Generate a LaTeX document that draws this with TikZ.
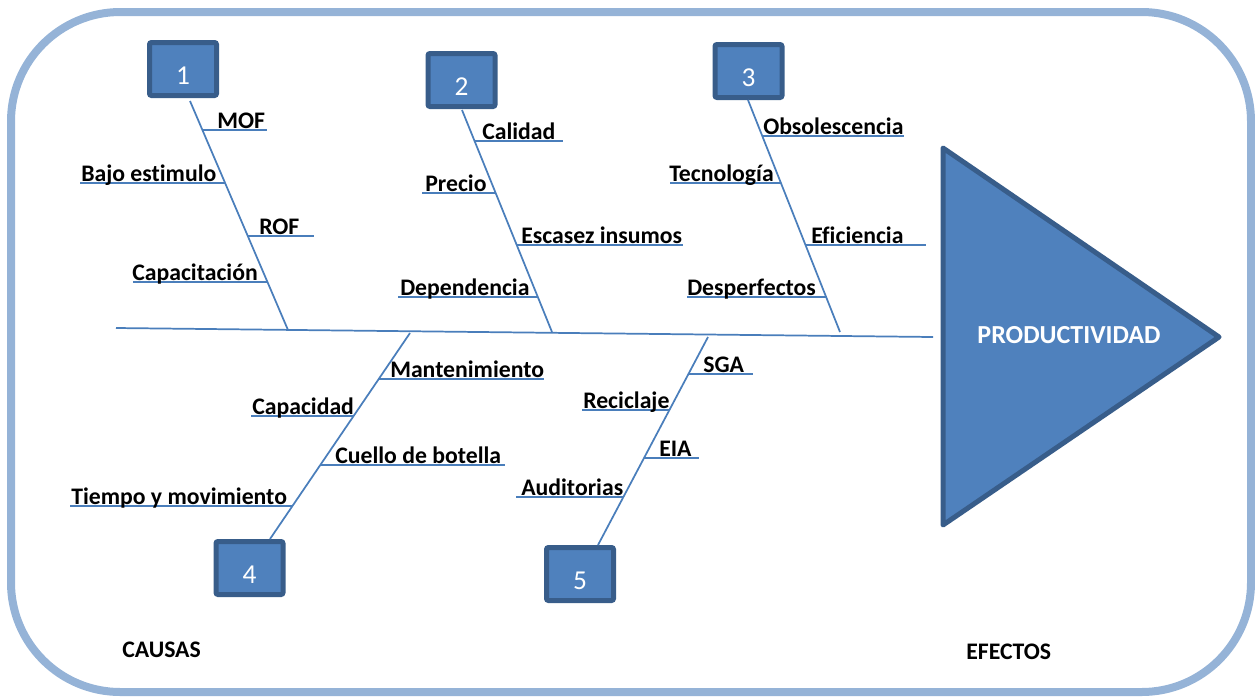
\documentclass[tikz,border=0pt]{standalone}
\usepackage{fontspec}
\setmainfont{Carlito}[Ligatures=NoCommon]
\definecolor{lineblue}{HTML}{4A7EBB}
\definecolor{boxfill}{HTML}{4F81BD}
\definecolor{boxedge}{HTML}{385D8A}
\definecolor{frameblue}{HTML}{95B3D7}
\begin{document}
\begin{tikzpicture}[x=0.75pt,y=-0.75pt,
  bone/.style={draw=lineblue,line width=1.3pt},
  lbl/.style={anchor=base west,inner sep=0pt,font=\bfseries\fontsize{17.8pt}{20pt}\selectfont},
  numbox/.style={draw=boxedge,fill=boxfill,line width=3.75pt,rounded corners=1.5pt,
    minimum width=50.25pt,minimum height=39.75pt,inner sep=0pt,text=white,
    font=\fontsize{20.5pt}{24pt}\selectfont,text height=22.5pt,text depth=0pt},
  bigtext/.style={anchor=base,inner sep=0pt,text=white,font=\bfseries\fontsize{19.5pt}{23pt}\selectfont},
]
\useasboundingbox (0,0) rectangle (1255,697);
% frame
\draw[frameblue,line width=6pt,rounded corners=82pt] (11,12) rectangle (1251,692);

% effect triangle
\coordinate (tA) at (943,148);
\coordinate (tB) at (1219,337);
\coordinate (tC) at (943,525);
\draw[boxedge,fill=boxfill,line width=3.75pt,line join=round] (tA) -- (tB) -- (tC) -- cycle;
\node[bigtext] (prod) at (1069,343) {PRODUCTIVIDAD};

% spine
\coordinate (sL) at (116,328);
\coordinate (sR) at (933,337);
\draw[bone] (sL) -- (sR);

% boxes
\node[numbox] (b1) at (183,69) {1};
\node[numbox] (b2) at (461.5,80) {2};
\node[numbox] (b3) at (748.5,71) {3};
\node[numbox] (b4) at (249.5,568) {4};
\node[numbox] (b5) at (580,574) {5};

% bone 1
\coordinate (t1) at (190,101); \coordinate (e1) at (288,330);
\draw[bone] (t1) -- (e1);
\draw[bone] (202.5,130) coordinate (a1) -- (267,130) coordinate (a1e);
\node[lbl] (l11) at (217,128) {MOF};
\draw[bone] (80,183) coordinate (a2e) -- (225,183) coordinate (a2);
\node[lbl] (l12) at (81,181) {Bajo estimulo};
\draw[bone] (248,236) coordinate (a3) -- (314,236) coordinate (a3e);
\node[lbl] (l13) at (259,234) {ROF};
\draw[bone] (133,282) coordinate (a4e) -- (268,282) coordinate (a4);
\node[lbl] (l14) at (132,280) {Capacitación};

% bone 2
\coordinate (t2) at (462,110); \coordinate (e2) at (552,332);
\draw[bone] (t2) -- (e2);
\draw[bone] (474.6,141) coordinate (c1) -- (563,141) coordinate (c1e);
\node[lbl] (l21) at (482,139) {Calidad};
\draw[bone] (422,193) coordinate (c2e) -- (496,193) coordinate (c2);
\node[lbl] (l22) at (425,191) {Precio};
\draw[bone] (517,245) coordinate (c3) -- (683,245) coordinate (c3e);
\node[lbl] (l23) at (521,243) {Escasez insumos};
\draw[bone] (398,297) coordinate (c4e) -- (538,297) coordinate (c4);
\node[lbl] (l24) at (400,295) {Dependencia};

% bone 3
\coordinate (t3) at (748,100); \coordinate (e3) at (840,332);
\draw[bone] (t3) -- (e3);
\draw[bone] (762.3,136) coordinate (d1) -- (904,136) coordinate (d1e);
\node[lbl] (l31) at (763,134) {Obsolescencia};
\draw[bone] (670,183) coordinate (d2e) -- (781,183) coordinate (d2);
\node[lbl] (l32) at (669,181) {Tecnología};
\draw[bone] (805.5,245) coordinate (d3) -- (926,245) coordinate (d3e);
\node[lbl] (l33) at (811,243) {Eficiencia};
\draw[bone] (687,297) coordinate (d4e) -- (826,297) coordinate (d4);
\node[lbl] (l34) at (687,295) {Desperfectos};

% bone 4
\coordinate (t4) at (410,333); \coordinate (e4) at (270,539);
\draw[bone] (t4) -- (e4);
\draw[bone] (378.7,379) coordinate (f1) -- (544,379) coordinate (f1e);
\node[lbl] (l41) at (390,377) {Mantenimiento};
\draw[bone] (251,416) coordinate (f2e) -- (353.6,416) coordinate (f2);
\node[lbl] (l42) at (252,414) {Capacidad};
\draw[bone] (320.3,465) coordinate (f3) -- (505,465) coordinate (f3e);
\node[lbl] (l43) at (335,463) {Cuello de botella};
\draw[bone] (70,506) coordinate (f4e) -- (292.4,506) coordinate (f4);
\node[lbl] (l44) at (71,504) {Tiempo y movimiento};

% bone 5
\coordinate (t5) at (708,337); \coordinate (e5) at (598,545);
\draw[bone] (t5) -- (e5);
\draw[bone] (688.4,374) coordinate (g1) -- (753,374) coordinate (g1e);
\node[lbl] (l51) at (703,372) {SGA};
\draw[bone] (582,410) coordinate (g2e) -- (669.4,410) coordinate (g2);
\node[lbl] (l52) at (583,408) {Reciclaje};
\draw[bone] (644,458) coordinate (g3) -- (699,458) coordinate (g3e);
\node[lbl] (l53) at (659,456) {EIA};
\draw[bone] (516,497) coordinate (g4e) -- (623.4,497) coordinate (g4);
\node[lbl] (l54) at (521,495) {Auditorias};

% captions
\node[lbl] (causas) at (122,657) {CAUSAS};
\node[lbl] (efectos) at (966,659) {EFECTOS};
\end{tikzpicture}
\end{document}
